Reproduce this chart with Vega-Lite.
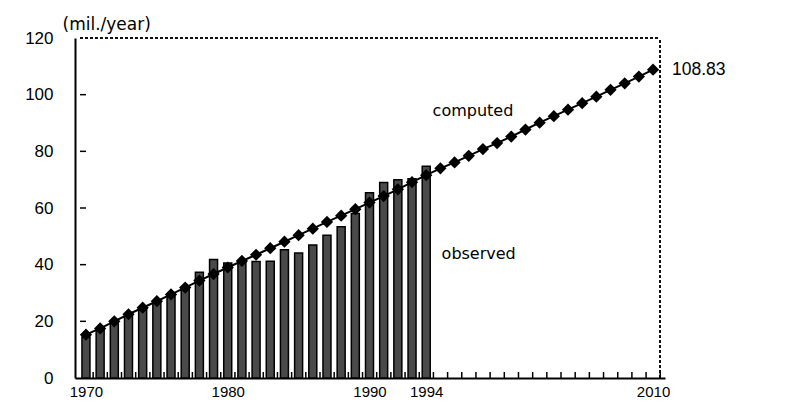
{
  "$schema": "https://vega.github.io/schema/vega-lite/v6.json",
  "width": 590,
  "height": 340,
  "autosize": {"type": "none"},
  "padding": {"left": 75, "top": 38, "right": 130, "bottom": 28},
  "background": "white",
  "config": {
    "font": "Liberation Sans",
    "view": {"stroke": null},
    "axis": {"ticks": false, "domainColor": "black", "domainWidth": 2, "grid": false, "labelColor": "black"}
  },
  "datasets": {
    "series": [
      {"year": 1970, "computed": 15.3, "observed": 14.5},
      {"year": 1971, "computed": 17.5, "observed": 17.0},
      {"year": 1972, "computed": 20.0, "observed": 19.6},
      {"year": 1973, "computed": 22.5, "observed": 22.6},
      {"year": 1974, "computed": 24.8, "observed": 24.5},
      {"year": 1975, "computed": 27.1, "observed": 26.6},
      {"year": 1976, "computed": 29.5, "observed": 28.7},
      {"year": 1977, "computed": 31.9, "observed": 31.9},
      {"year": 1978, "computed": 34.4, "observed": 37.3},
      {"year": 1979, "computed": 36.7, "observed": 41.8},
      {"year": 1980, "computed": 39.0, "observed": 40.6},
      {"year": 1981, "computed": 41.3, "observed": 41.5},
      {"year": 1982, "computed": 43.5, "observed": 41.1},
      {"year": 1983, "computed": 45.8, "observed": 41.2},
      {"year": 1984, "computed": 48.1, "observed": 45.3},
      {"year": 1985, "computed": 50.4, "observed": 44.1},
      {"year": 1986, "computed": 52.7, "observed": 46.9},
      {"year": 1987, "computed": 55.1, "observed": 50.4},
      {"year": 1988, "computed": 57.3, "observed": 53.4},
      {"year": 1989, "computed": 59.6, "observed": 58.1},
      {"year": 1990, "computed": 61.9, "observed": 65.4},
      {"year": 1991, "computed": 64.2, "observed": 69.0},
      {"year": 1992, "computed": 66.6, "observed": 70.0},
      {"year": 1993, "computed": 69.1, "observed": 70.3},
      {"year": 1994, "computed": 71.6, "observed": 74.7},
      {"year": 1995, "computed": 74.0, "observed": null},
      {"year": 1996, "computed": 76.1, "observed": null},
      {"year": 1997, "computed": 78.4, "observed": null},
      {"year": 1998, "computed": 80.8, "observed": null},
      {"year": 1999, "computed": 82.9, "observed": null},
      {"year": 2000, "computed": 85.2, "observed": null},
      {"year": 2001, "computed": 87.7, "observed": null},
      {"year": 2002, "computed": 90.1, "observed": null},
      {"year": 2003, "computed": 92.4, "observed": null},
      {"year": 2004, "computed": 94.7, "observed": null},
      {"year": 2005, "computed": 97.0, "observed": null},
      {"year": 2006, "computed": 99.3, "observed": null},
      {"year": 2007, "computed": 101.7, "observed": null},
      {"year": 2008, "computed": 104.0, "observed": null},
      {"year": 2009, "computed": 106.4, "observed": null},
      {"year": 2010, "computed": 108.83, "observed": null}
    ],
    "notes": [
      {"year": 1997.3, "value": 94.2, "label": "computed"},
      {"year": 1997.7, "value": 43.8, "label": "observed"}
    ],
    "yticks": [
      {"v": 20}, {"v": 40}, {"v": 60}, {"v": 80}, {"v": 100}
    ],
    "frame": [{}]
  },
  "data": {"name": "series"},
  "layer": [
    {
      "data": {"name": "frame"},
      "mark": {"type": "rule", "color": "#111", "strokeWidth": 2, "strokeDash": [3, 2]},
      "encoding": {
        "x": {"datum": 1969.58, "type": "quantitative", "scale": {"domain": [1969.58, 2010.49], "nice": false, "zero": false}},
        "x2": {"datum": 2010.49},
        "y": {"datum": 120, "type": "quantitative", "scale": {"domain": [0, 120], "nice": false}}
      }
    },
    {
      "data": {"name": "frame"},
      "mark": {"type": "rule", "color": "#111", "strokeWidth": 2, "strokeDash": [3, 2]},
      "encoding": {
        "x": {"datum": 2010.49, "type": "quantitative"},
        "y": {"datum": 0, "type": "quantitative"},
        "y2": {"datum": 120}
      }
    },
    {
      "transform": [{"filter": "isValid(datum.observed)"}],
      "mark": {"type": "bar", "width": 8, "fill": "#4a4a4a", "stroke": "black", "strokeWidth": 1.5},
      "encoding": {
        "x": {
          "field": "year",
          "type": "quantitative",
          "axis": {
            "title": null,
            "values": [1970, 1980, 1990, 1994, 2010],
            "format": "d",
            "labelOverlap": false,
            "labelFontSize": 15,
            "labelPadding": 6
          }
        },
        "y": {
          "field": "observed",
          "type": "quantitative",
          "axis": {
            "values": [0, 20, 40, 60, 80, 100, 120],
            "title": "(mil./year)",
            "titleAngle": 0,
            "titleX": -13,
            "titleY": -14,
            "titleAlign": "left",
            "titleBaseline": "middle",
            "titleFont": "DejaVu Sans",
            "titleFontSize": 17,
            "titleFontWeight": "normal",
            "titleColor": "black",
            "labelFontSize": 17,
            "labelPadding": 22
          }
        }
      }
    },
    {
      "mark": {"type": "tick", "orient": "vertical", "size": 6, "thickness": 1.5, "color": "black", "opacity": 1, "xOffset": 7.2, "yOffset": -3},
      "encoding": {
        "x": {"field": "year", "type": "quantitative"},
        "y": {"datum": 0, "type": "quantitative"}
      }
    },
    {
      "data": {"name": "yticks"},
      "mark": {"type": "tick", "orient": "horizontal", "size": 6, "thickness": 1.5, "color": "black", "opacity": 1, "xOffset": 3},
      "encoding": {
        "x": {"datum": 1969.58, "type": "quantitative"},
        "y": {"field": "v", "type": "quantitative"}
      }
    },
    {
      "mark": {"type": "line", "color": "black", "strokeWidth": 2},
      "encoding": {
        "x": {"field": "year", "type": "quantitative"},
        "y": {"field": "computed", "type": "quantitative"}
      }
    },
    {
      "mark": {"type": "point", "shape": "diamond", "filled": true, "color": "black", "size": 150, "opacity": 1},
      "encoding": {
        "x": {"field": "year", "type": "quantitative"},
        "y": {"field": "computed", "type": "quantitative"}
      }
    },
    {
      "transform": [{"filter": "datum.year == 2010"}],
      "mark": {"type": "text", "align": "left", "baseline": "middle", "dx": 19, "fontSize": 17.5, "color": "black"},
      "encoding": {
        "x": {"field": "year", "type": "quantitative"},
        "y": {"field": "computed", "type": "quantitative"},
        "text": {"field": "computed", "type": "quantitative", "format": ".2f"}
      }
    },
    {
      "data": {"name": "notes"},
      "mark": {"type": "text", "align": "center", "baseline": "middle", "font": "DejaVu Sans", "fontSize": 16, "color": "black"},
      "encoding": {
        "x": {"field": "year", "type": "quantitative"},
        "y": {"field": "value", "type": "quantitative"},
        "text": {"field": "label"}
      }
    }
  ]
}
